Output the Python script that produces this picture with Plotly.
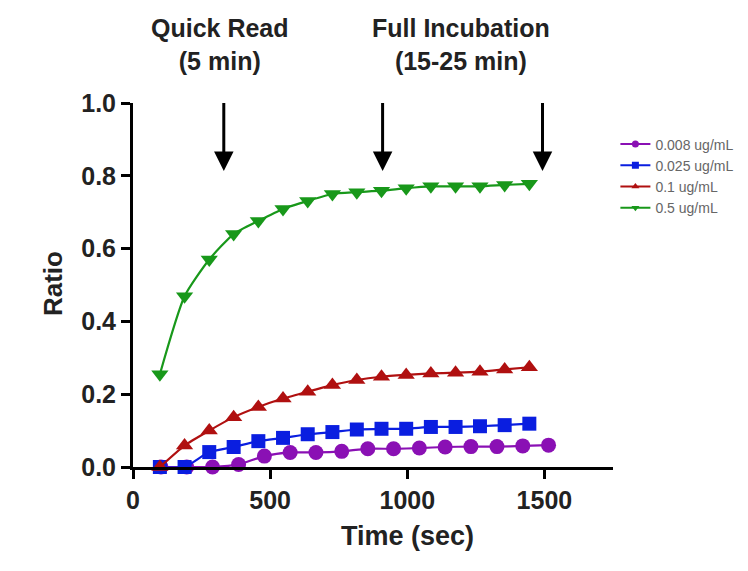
import plotly.graph_objects as go

# ---- data ----
series_names = ["0.008 ug/mL", "0.025 ug/mL", "0.1 ug/mL", "0.5 ug/mL"]
time_main = [98, 188, 278, 367, 457, 547, 637, 727, 816, 906, 996, 1086, 1176, 1265, 1355, 1445]
time_low = [102, 196, 290, 385, 479, 573, 667, 761, 856, 950, 1044, 1138, 1232, 1327, 1421, 1515]
ratio_0008 = [0.0, 0.0, 0.0, 0.007, 0.03, 0.04, 0.04, 0.043, 0.05, 0.05, 0.052, 0.055, 0.056, 0.056, 0.058, 0.06]
ratio_0025 = [0.0, 0.0, 0.041, 0.055, 0.071, 0.08, 0.09, 0.096, 0.103, 0.105, 0.105, 0.11, 0.11, 0.112, 0.115, 0.119]
ratio_01 = [0.0, 0.059, 0.1, 0.137, 0.165, 0.188, 0.207, 0.225, 0.239, 0.248, 0.253, 0.257, 0.259, 0.262, 0.268, 0.274]
ratio_05 = [0.255, 0.469, 0.57, 0.64, 0.676, 0.709, 0.731, 0.75, 0.755, 0.759, 0.766, 0.771, 0.771, 0.771, 0.775, 0.778]
x_ticks = [0, 500, 1000, 1500]
y_ticks = [0.0, 0.2, 0.4, 0.6, 0.8, 1.0]
arrow_times = [331, 910, 1493]

colors = ["#8a10b4", "#0a1ee0", "#b01010", "#18981a"]
symbols = ["circle", "square", "triangle-up", "triangle-down"]
xs = [time_low, time_main, time_main, time_main]
ys = [ratio_0008, ratio_0025, ratio_01, ratio_05]
sizes = [15, 14, 15, 15]

fig = go.Figure()
for name, x, y, c, s, sz in zip(series_names, xs, ys, colors, symbols, sizes):
    fig.add_trace(go.Scatter(
        x=x, y=y, name=name, mode="lines+markers",
        line=dict(color=c, width=2.2, shape="spline", smoothing=0.6),
        marker=dict(color=c, symbol=s, size=sz),
        cliponaxis=False, showlegend=False,
    ))
# legend entries with small symbols (as in the reference)
for name, c, s in zip(series_names, colors, symbols):
    fig.add_trace(go.Scatter(
        x=[None], y=[None], name=name, mode="lines+markers",
        line=dict(color=c, width=2), marker=dict(color=c, symbol=s, size=7),
    ))

font_main = "Liberation Sans, Arial, sans-serif"

fig.update_layout(
    width=748, height=571,
    margin=dict(l=125, r=143, t=95, b=112, autoexpand=False),
    plot_bgcolor="white", paper_bgcolor="white",
    font=dict(family=font_main, color="#222"),
    showlegend=True,
    legend=dict(x=1.005, xanchor="left", y=0.93, yanchor="top",
                font=dict(size=14, color="#666"),
                tracegroupgap=0, itemwidth=30, bgcolor="rgba(0,0,0,0)"),
    xaxis=dict(range=[0, 1750], tickvals=x_ticks, ticktext=[str(v) for v in x_ticks],
               showline=True, linecolor="black", linewidth=3,
               ticks="outside", ticklen=9, tickwidth=3, tickcolor="black",
               showgrid=False, zeroline=False,
               tickfont=dict(size=25, color="#222", family=font_main, weight="bold")),
    yaxis=dict(range=[0, 1.0], tickvals=y_ticks, ticktext=[f"{v:.1f}" for v in y_ticks],
               showline=True, linecolor="black", linewidth=3,
               ticks="outside", ticklen=9, tickwidth=3, tickcolor="black",
               showgrid=False, zeroline=False,
               tickfont=dict(size=25, color="#222", family=font_main, weight="bold")),
)

# axis titles
fig.add_annotation(text="<b>Time (sec)</b>", x=1000, xref="x", y=-0.19, yref="paper",
                   xanchor="center", yanchor="middle", showarrow=False,
                   font=dict(size=27, color="#222"))
fig.add_annotation(text="<b>Ratio</b>", x=-0.167, xref="paper", y=0.505, yref="paper",
                   xanchor="center", yanchor="middle", textangle=-90, showarrow=False,
                   font=dict(size=26, color="#222"))

# header labels
fig.add_annotation(text="<b>Quick Read<br>(5 min)</b>", x=317, xref="x", y=1.16, yref="paper",
                   xanchor="center", yanchor="middle", showarrow=False, font=dict(size=25, color="#222"))
fig.add_annotation(text="<b>Full Incubation<br>(15-25 min)</b>", x=1194, xref="x", y=1.16, yref="paper",
                   xanchor="center", yanchor="middle", showarrow=False, font=dict(size=25, color="#222"))

# arrows
for t in arrow_times:
    fig.add_annotation(x=t, y=0.813, xref="x", yref="y",
                       ax=t, ay=1.004, axref="x", ayref="y",
                       showarrow=True, arrowhead=2, arrowsize=1.3, arrowwidth=3,
                       arrowcolor="black", text="")

fig.write_html("out.html")
